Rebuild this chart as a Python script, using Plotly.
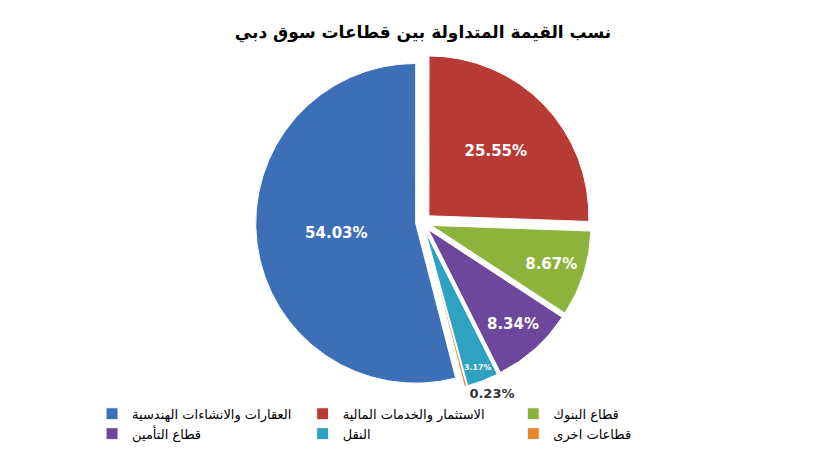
import plotly.graph_objects as go

labels = ["العقارات والانشاءات الهندسية", "الاستثمار والخدمات المالية", "قطاع البنوك",
          "قطاع التأمين", "النقل", "قطاعات اخرى"]
values = [54.03, 25.55, 8.67, 8.34, 3.17, 0.23]
colors = ["#3d6fb6", "#b83a35", "#8cb43c", "#6c479b", "#2fa2c1", "#e5852c"]
texts = [f"<b>{v:.2f}%</b>" for v in values]

fig = go.Figure(go.Pie(
    labels=labels, values=values, sort=False, direction="clockwise",
    rotation=165.5,
    marker=dict(colors=colors, line=dict(color="white", width=1)),
    text=texts, textinfo="text",
    textposition=["inside", "inside", "inside", "inside", "inside", "outside"],
    insidetextorientation="horizontal",
    insidetextfont=dict(color="white", size=15, family="DejaVu Sans"),
    outsidetextfont=dict(color="#333333", size=13, family="DejaVu Sans"),
    pull=[0.04, 0.06, 0.06, 0.06, 0.06, 0.06],
    domain=dict(x=[0.1, 0.9], y=[0.0, 1.0]),
))

fig.update_layout(
    width=830, height=451,
    paper_bgcolor="white",
    margin=dict(l=10, r=10, t=45, b=55),
    title=dict(text="<b>نسب القيمة المتداولة بين قطاعات سوق دبي</b>", x=0.5, y=0.96,
               xanchor="center", font=dict(size=17, family="DejaVu Sans", color="black")),
    font=dict(family="DejaVu Sans", size=13, color="black"),
    legend=dict(orientation="h", x=0.03, y=-0.02, xanchor="left", yanchor="top",
                entrywidth=0.3, entrywidthmode="fraction", font=dict(size=13)),
)

fig.write_html("out.html")
